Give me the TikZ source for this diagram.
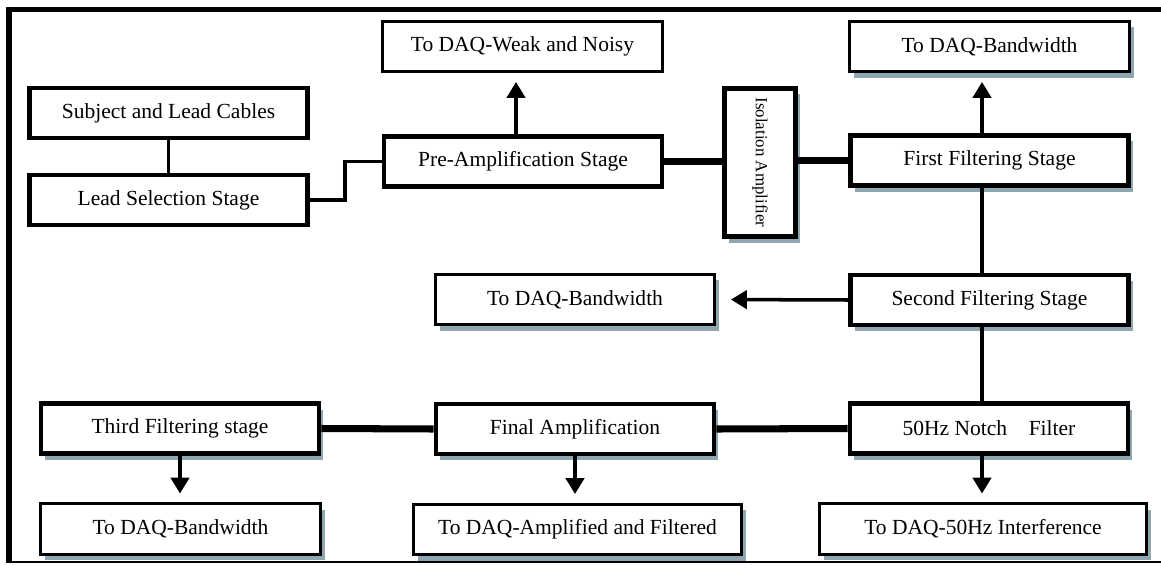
\documentclass[tikz,border=0pt]{standalone}
\usepackage{fontspec}
\setmainfont{Liberation Serif}
\usepackage{graphicx}
\usetikzlibrary{arrows.meta, shadows}
\definecolor{shadowblue}{RGB}{141,166,176}
\tikzset{
  stage/.style={draw, fill=white, line width=3.2pt, minimum width=6.95cm, minimum height=1.25cm, inner sep=0pt},
  daqbox/.style={draw, fill=white, line width=2.1pt, minimum width=6.98cm, minimum height=1.26cm, inner sep=0pt},
  shade/.style={drop shadow={shadow xshift=0.11cm, shadow yshift=-0.15cm, fill=shadowblue, opacity=1}},
  wire/.style={line width=2.7pt},
  bus/.style={line width=5pt},
  feed/.style={line width=2.5pt, -{Triangle[width=0.46cm,length=0.4cm]}, shorten >=0.22cm},
}

\begin{document}
\begin{tikzpicture}[x=0.025cm, y=-0.025cm, font=\fontsize{15.3}{18}\selectfont]
    \useasboundingbox (0,0) rectangle (1161,565);
    \draw[line width=4pt] (1175,9.5) -- (9,9.5) -- (9,563);
    \draw[line width=1.8pt] (6,562) -- (1175,562);

        \node(subj)[stage] at (168.5,113) {Subject and Lead Cables};
    \node(lead)[stage] at (168.5,200) {Lead Selection\ Stage};
    \node(pre)[stage] at (523,161.5) {Pre-Amplification\ Stage};
    \node(daqweak)[daqbox] at (522.5,46.5) {To DAQ-Weak and Noisy};
    \node(iso)[stage, shade, minimum width=1.78cm, minimum height=3.7cm] at (760,162.5) {\rotatebox{-90}{\fontsize{12}{14}\selectfont Isolation Amplifier}};
    \node(daqtop)[daqbox, shade] at (989.5,46.5) {To DAQ-Bandwidth};
    \node(first)[stage, shade] at (989.5,160.5) {First Filtering Stage};
    \node(second)[stage, shade] at (989.5,300) {Second Filtering\ Stage};
    \node(daqmid)[daqbox, shade] at (575,299.5) {To DAQ-Bandwidth};
    \node(notch)[stage, shade] at (989,428.5) {50Hz Notch\quad Filter};
    \node(final)[stage, shade] at (575,429) {Final Amplification};
    \node(third)[stage, shade] at (180,428.5) {Third Filtering\ stage};
    \node(daqlow)[daqbox, shade] at (180.5,529) {To DAQ-Bandwidth};
    \node(daqamp)[daqbox, shade, minimum width=8.18cm] at (577.5,529.5) {To DAQ-Amplified and\ Filtered};
    \node(daqhum)[daqbox, shade, minimum width=8.18cm] at (983,529) {To DAQ-50Hz Interference};

    \coordinate(precol) at (516,0);
    \coordinate(filtcol) at (982,0);

    \draw[wire] (subj.south) -- (lead.north);
    \draw[wire] (lead.east) -- ++(35,0) |- (pre.west);
    \draw[feed] (pre.north -| precol) -- (daqweak.south -| precol);
    \draw[bus] (pre.east) -- (pre.east -| iso.west);
    \draw[bus] (iso.east |- first.west) -- (first.west);
    \draw[feed] (first.north -| filtcol) -- (daqtop.south -| filtcol);
    \draw[wire] (first.south -| filtcol) -- (second.north -| filtcol);
    \draw[feed, shorten >=0.37cm] (second.west) -- (daqmid.east);
    \draw[wire] (second.south -| filtcol) -- (notch.north -| filtcol);
    \draw[bus] (notch.west) -- (final.east);
    \draw[bus] (final.west) -- (third.east);
    \draw[feed] (notch.south -| filtcol) -- (daqhum.north -| filtcol);
    \draw[feed] (final.south) -- (final.south |- daqamp.north);
    \draw[feed] (third.south) -- (third.south |- daqlow.north);
    \end{tikzpicture}
\end{document}
